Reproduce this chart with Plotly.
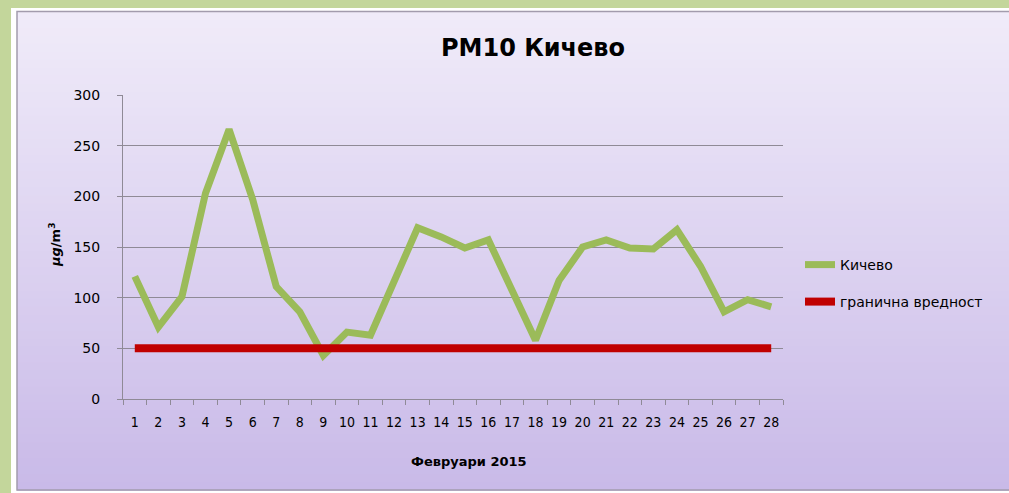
import plotly.graph_objects as go

days = [str(d) for d in range(1, 29)]
kichevo = [121, 71, 101, 203, 266, 197, 111, 86, 43, 66, 63, 115, 169, 160,
           149, 157, 106, 58, 117, 150, 157, 149, 148, 167, 131, 86, 98, 91]
limit_value = [50] * 28
y_ticks = [0, 50, 100, 150, 200, 250, 300]

W, H = 1009, 493
L, R, T, B = 123, 783, 95, 399  # plot area pixel bounds


def px(x):
    return (x - L) / (R - L)


def py(y):
    return (B - y) / (B - T)


FONT = "DejaVu Sans"
COND = "DejaVu Sans Condensed"

fig = go.Figure()
fig.add_trace(go.Scatter(x=days, y=kichevo, mode="lines", name="Кичево",
                         line=dict(color="#9bbb59", width=7), legend="legend"))
fig.add_trace(go.Scatter(x=days, y=limit_value, mode="lines", name="гранична вредност",
                         line=dict(color="#c00000", width=8), legend="legend2"))

shapes = []
# white frame
shapes.append(dict(type="rect", xref="paper", yref="paper", x0=px(11), x1=px(1012),
                   y0=py(8), y1=py(496), fillcolor="white", line=dict(width=0), layer="below"))
# gradient bands
top = (240, 235, 249)
bot = (201, 186, 232)
y_start, y_end = 12, 490
n = 60
for i in range(n):
    t = i / (n - 1)
    c = tuple(int(round(top[k] + (bot[k] - top[k]) * t)) for k in range(3))
    ya = y_start + (y_end - y_start) * i / n
    yb = y_start + (y_end - y_start) * (i + 1) / n + 0.8
    shapes.append(dict(type="rect", xref="paper", yref="paper", x0=px(17), x1=px(1012),
                       y0=py(ya), y1=py(yb), fillcolor="rgb(%d,%d,%d)" % c,
                       line=dict(width=0), layer="below"))
# panel border
shapes.append(dict(type="rect", xref="paper", yref="paper", x0=px(17), x1=px(1012),
                   y0=py(11.5), y1=py(490), fillcolor="rgba(0,0,0,0)",
                   line=dict(color="#a39cad", width=1.5), layer="below"))

fig.update_layout(
    width=W, height=H,
    margin=dict(l=L, r=W - R, t=T, b=H - B, pad=0, autoexpand=False),
    paper_bgcolor="#c3d69b",
    plot_bgcolor="rgba(0,0,0,0)",
    shapes=shapes,
    font=dict(family=FONT, color="black", size=14),
    title=dict(text="<b>PM10 Кичево</b>", x=533 / W, xanchor="center",
               y=1 - 48 / H, yanchor="middle", font=dict(size=24, family=FONT)),
    showlegend=True,
    legend=dict(x=px(800), xanchor="left", y=py(265), yanchor="middle",
                bgcolor="rgba(0,0,0,0)", font=dict(size=14, family=FONT),
                itemwidth=30),
    legend2=dict(x=px(800), xanchor="left", y=py(302), yanchor="middle",
                 bgcolor="rgba(0,0,0,0)", font=dict(size=14, family=FONT),
                 itemwidth=30),
    xaxis=dict(type="category", range=[-0.5, 27.5], tickson="boundaries",
               ticks="outside", ticklen=5, tickcolor="#8f8a96",
               showline=True, linecolor="#8f8a96", linewidth=1,
               showgrid=False, zeroline=False, tickangle=0,
               tickfont=dict(size=14, family=COND),
               ticklabelstandoff=10),
    yaxis=dict(range=[0, 300], tickvals=y_ticks, ticks="outside", ticklen=5,
               tickcolor="#8f8a96", showline=True, linecolor="#8f8a96",
               showgrid=True, gridcolor="#8f8a96", gridwidth=1, zeroline=False,
               tickfont=dict(size=14), ticklabelstandoff=14),
    annotations=[
        dict(text="<b>Февруари 2015</b>", xref="paper", yref="paper",
             x=px(469), y=py(461), xanchor="center", yanchor="middle",
             showarrow=False, font=dict(size=13, family=FONT)),
        dict(text="<b><i>µg</i>/m<sup>3</sup></b>", xref="paper", yref="paper",
             x=px(55), y=py(245), xanchor="center", yanchor="middle",
             textangle=-90, showarrow=False, font=dict(size=13, family=FONT)),
    ],
)

fig.write_html("out.html", config={"displayModeBar": False},
               post_script="document.body.style.margin='0px';")
